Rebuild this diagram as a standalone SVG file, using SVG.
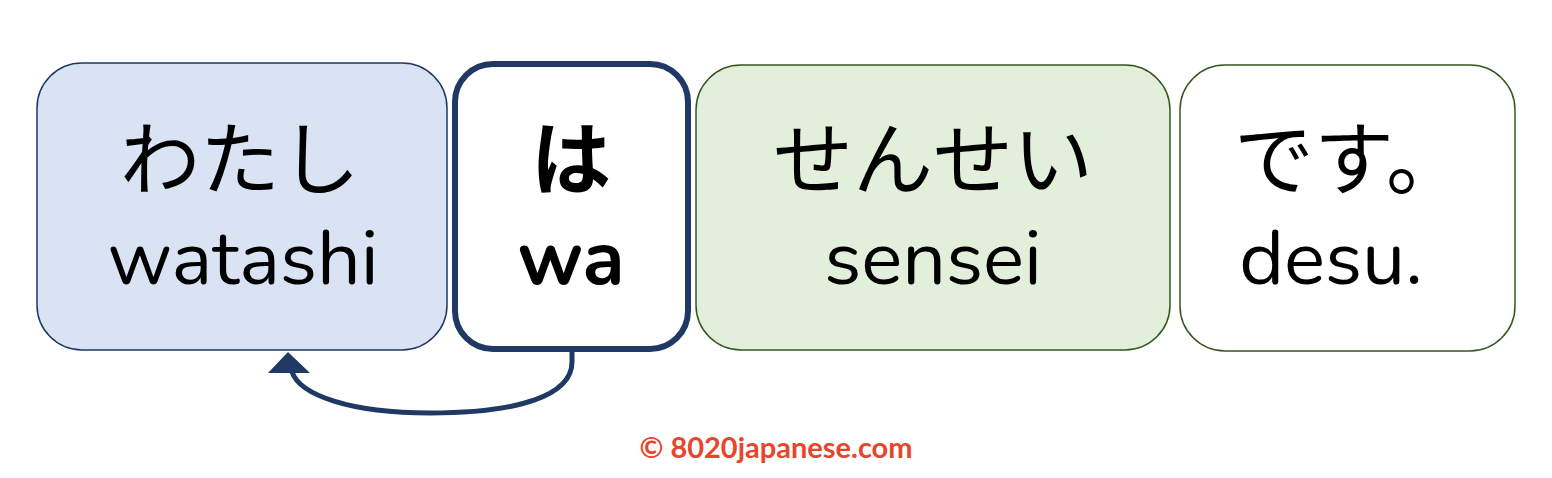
<svg xmlns="http://www.w3.org/2000/svg" width="1552" height="478" viewBox="0 0 1552 478">
<style>
.jp{font-family:"Noto Sans CJK JP","Noto Sans",sans-serif;font-size:80px;fill:#000;text-anchor:middle}
.ro{font-family:"Nunito","Lato","Noto Sans",sans-serif;font-size:77px;fill:#000;text-anchor:middle}
.b{font-weight:bold}
</style>
<rect width="1552" height="478" fill="#fff"/>
<g id="watashi">
<rect x="37" y="63" width="410" height="287" rx="45" fill="#dae3f3" stroke="#1f3864" stroke-width="1.5"/>
<text class="jp" x="240" y="188">わたし</text>
<text class="ro" x="243" y="284">watashi</text>
</g>
<g id="wa">
<rect x="455" y="64" width="233" height="285" rx="38" fill="#fff" stroke="#203864" stroke-width="6"/>
<text class="jp b" x="571" y="188">は</text>
<text class="ro b" x="571" y="284">wa</text>
</g>
<g id="sensei">
<rect x="696" y="65" width="474" height="285" rx="45" fill="#e2efda" stroke="#375623" stroke-width="1.5"/>
<text class="jp" x="933" y="188">せんせい</text>
<text class="ro" x="933" y="284">sensei</text>
</g>
<g id="desu">
<rect x="1180" y="65" width="335" height="286" rx="45" fill="#fff" stroke="#375623" stroke-width="1.5"/>
<text class="jp" x="1350" y="188">です。</text>
<text class="ro" x="1331" y="284">desu.</text>
</g>
<g id="connectors">
<path d="M572,352 L572,362 C572,395 520,413 430,413 C350,413 300,395 292,372" fill="none" stroke="#203864" stroke-width="5"/>
<polygon points="268,373 310,373 288,352" fill="#203864"/>
</g>
<text x="776" y="458" font-family="Lato,'Noto Sans',sans-serif" font-weight="bold" font-size="29" fill="#e8452c" text-anchor="middle">© 8020japanese.com</text>
</svg>
